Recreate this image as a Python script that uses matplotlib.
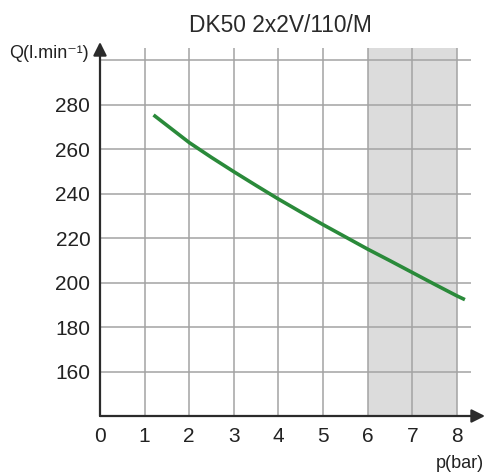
import matplotlib.pyplot as plt
import numpy as np

# values
pressure = [1.2, 2, 2.5, 3, 3.5, 4, 4.5, 5, 5.5, 6, 6.5, 7, 7.5, 8, 8.18]
flow = [275.3, 262.9, 256.2, 249.8, 243.6, 237.5, 231.7, 226.0, 220.5,
        215.0, 209.8, 204.5, 199.2, 194.0, 192.3]
x_ticks = [0, 1, 2, 3, 4, 5, 6, 7, 8]
y_ticks = [160, 180, 200, 220, 240, 260, 280]
y_grid = [160, 180, 200, 220, 240, 260, 280, 300]
shade = [6, 8]

font = ['Liberation Sans', 'DejaVu Sans']

fig = plt.figure(figsize=(4.85, 4.74), dpi=100)
ax = fig.add_axes([100 / 485, 58 / 474, 385 / 485, 374 / 474])
ax.set_xlim(0, 8.63)
ax.set_ylim(140, 308.1)

top = 305.5
# shaded zone
ax.fill_between(shade, 140, top, color='#dcdcdc', lw=0, zorder=0)

# grid
ax.vlines(x_ticks[1:], 140, top, color='#a3a3a3', lw=1.1, zorder=1)
ax.hlines(y_grid, 0, 8.32, color='#a3a3a3', lw=1.1, zorder=1)

# curve
ax.plot(pressure, flow, color='#2a8a3a', lw=2.6, solid_capstyle='butt',
        solid_joinstyle='round', zorder=3)

# axes with arrows
for end in [(8.63, 140), (0, 308.1)]:
    ax.annotate('', xy=end, xytext=(0, 140),
                arrowprops=dict(arrowstyle='-|>', color='#2b2b2b', lw=1.6,
                                mutation_scale=20, shrinkA=0, shrinkB=0),
                annotation_clip=False, zorder=4)

for s in ax.spines.values():
    s.set_visible(False)

ax.set_xticks(x_ticks)
ax.set_xticklabels([str(t) for t in x_ticks], family=font, fontsize=15, color='#222222')
ax.set_yticks(y_ticks)
ax.set_yticklabels([str(t) for t in y_ticks], family=font, fontsize=15, color='#222222')
ax.tick_params(length=0)
ax.tick_params(axis='x', pad=8)
ax.tick_params(axis='y', pad=7)

fig.text(280 / 485, 1 - 25 / 474, 'DK50 2x2V/110/M', ha='center', va='center',
         fontsize=16.4, family=font, color='#2a2a2a')
fig.text(89 / 485, 1 - 53 / 474, 'Q(l.min\u207b\u00b9)', ha='right', va='center',
         fontsize=13, family=font, color='#222222')
fig.text(484 / 485, 1 - 463 / 474, 'p(bar)', ha='right', va='center',
         fontsize=13, family=font, color='#222222')

fig.savefig('out.png', dpi=100)
